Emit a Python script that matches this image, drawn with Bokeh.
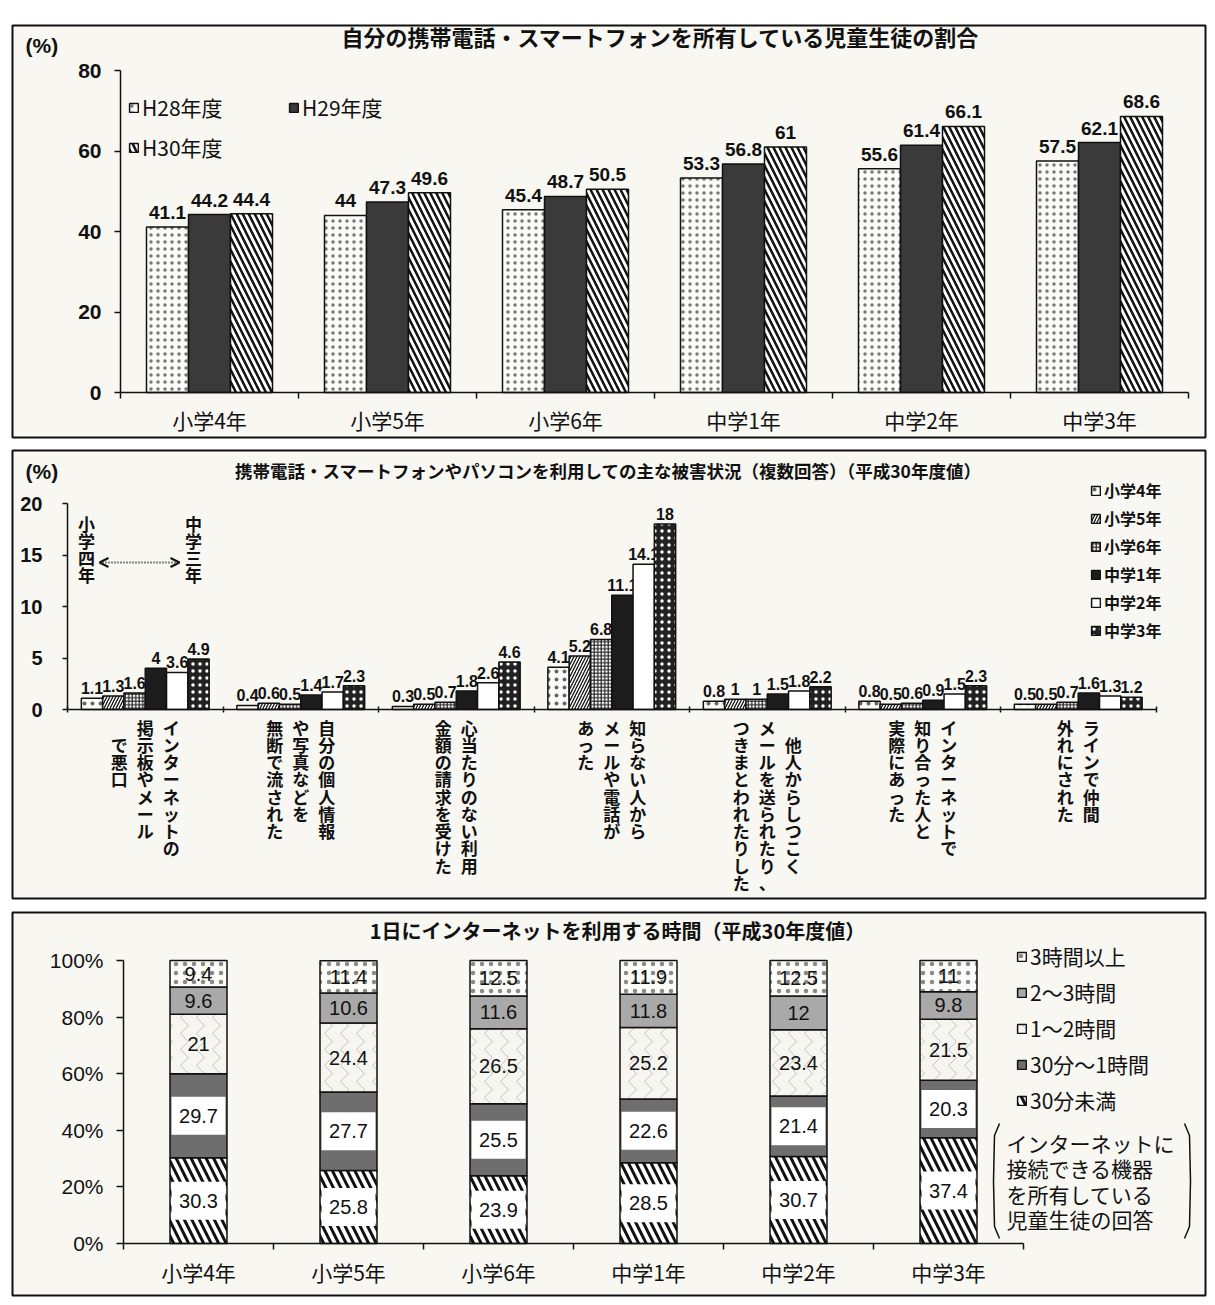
import numpy as np
from bokeh.plotting import figure
from bokeh.models import Range1d, FixedTicker, Legend, LegendItem, Arrow, OpenHead
from bokeh.layouts import column
from bokeh.embed import file_html
from bokeh.resources import INLINE
from bokeh.core.properties import value

JP = "Noto Sans CJK JP"
NUM = "Liberation Sans"
BG = "#f8f7f2"
INK = "#111111"

# ---------------- data ----------------
grades = ["小学4年", "小学5年", "小学6年", "中学1年", "中学2年", "中学3年"]

# panel 1: ownership of phone / smartphone (%)
years = ["H28年度", "H29年度", "H30年度"]
own_h28 = [41.1, 44.0, 45.4, 53.3, 55.6, 57.5]
own_h29 = [44.2, 47.3, 48.7, 56.8, 61.4, 62.1]
own_h30 = [44.4, 49.6, 50.5, 61.0, 66.1, 68.6]

# panel 2: damage situations (%), H30
damage_types = [
    ["インターネットの", "掲示板やメール", "　で悪口"],
    ["自分の個人情報", "や写真などを", "無断で流された"],
    ["心当たりのない利用", "金額の請求を受けた"],
    ["知らない人から", "メールや電話が", "あった"],
    ["　他人からしつこく", "メールを送られたり、", "つきまとわれたりした"],
    ["インターネットで", "知り合った人と", "実際にあった"],
    ["ラインで仲間", "外れにされた"],
]
dmg_e4 = [1.1, 0.4, 0.3, 4.1, 0.8, 0.8, 0.5]
dmg_e5 = [1.3, 0.6, 0.5, 5.2, 1.0, 0.5, 0.5]
dmg_e6 = [1.6, 0.5, 0.7, 6.8, 1.0, 0.6, 0.7]
dmg_j1 = [4.0, 1.4, 1.8, 11.1, 1.5, 0.9, 1.6]
dmg_j2 = [3.6, 1.7, 2.6, 14.1, 1.8, 1.5, 1.3]
dmg_j3 = [4.9, 2.3, 4.6, 18.0, 2.2, 2.3, 1.2]

# panel 3: daily internet use time (%), H30, bottom -> top
time_cats = ["30分未満", "30分～1時間", "1～2時間", "2～3時間", "3時間以上"]
t_lt30 = [30.3, 25.8, 23.9, 28.5, 30.7, 37.4]
t_30_60 = [29.7, 27.7, 25.5, 22.6, 21.4, 20.3]
t_1_2 = [21.0, 24.4, 26.5, 25.2, 23.4, 21.5]
t_2_3 = [9.6, 10.6, 11.6, 11.8, 12.0, 9.8]
t_3plus = [9.4, 11.4, 12.5, 11.9, 12.5, 11.0]


def fmt(v):
    return f"{v:g}"


FIG_LEFT, FIG_W = 0, 1208
FRAME_L, FRAME_R = 12, 1205


def make_panel(page_top, page_bottom, frame_top, frame_bottom, axis_x_px, px_per_cat, zero_y_px, px_per_unit):
    def X(px):
        return (px - axis_x_px) / px_per_cat - 0.5

    def Y(py):
        return (zero_y_px - py) / px_per_unit

    p = figure(width=FIG_W, height=page_bottom - page_top,
               x_range=Range1d(X(FRAME_L), X(FRAME_R)),
               y_range=Range1d(Y(frame_bottom), Y(frame_top)),
               min_border_left=FRAME_L - FIG_LEFT,
               min_border_right=FIG_LEFT + FIG_W - FRAME_R,
               min_border_top=frame_top - page_top,
               min_border_bottom=page_bottom - frame_bottom,
               output_backend="svg", toolbar_location=None)
    p.title.visible = False
    p.outline_line_color = INK
    p.outline_line_width = 2
    p.background_fill_color = BG
    p.border_fill_color = "white"
    p.grid.visible = False
    return p, X, Y


def style_axes(p, ncat, yticks, ybounds, xlabels=True):
    xa, ya = p.xaxis[0], p.yaxis[0]
    ya.fixed_location = -0.5
    xa.fixed_location = 0
    ya.bounds = ybounds
    xa.bounds = (-0.5, ncat - 0.5)
    ya.ticker = FixedTicker(ticks=yticks, minor_ticks=[])
    xa.ticker = FixedTicker(ticks=list(range(ncat)) if xlabels else [],
                            minor_ticks=[i - 0.5 for i in range(ncat + 1)])
    for a in (xa, ya):
        a.axis_line_color = INK
        a.axis_line_width = 1.5
        a.major_tick_line_color = INK
        a.major_tick_line_width = 1.5
        a.minor_tick_line_color = INK
        a.minor_tick_line_width = 1.5
        a.major_label_text_color = INK
    ya.major_tick_in = 0
    ya.major_tick_out = 6
    ya.minor_tick_in = 0
    ya.minor_tick_out = 0
    xa.major_tick_in = 0
    xa.major_tick_out = 0
    xa.minor_tick_in = 0
    xa.minor_tick_out = 6
    return xa, ya


def legend(items, loc, font_size, spacing, label_height, style="normal"):
    lg = Legend(items=items, location=loc, orientation="vertical",
                label_text_font=JP, label_text_font_size=font_size, label_text_font_style=style,
                label_text_color=INK, glyph_width=11, glyph_height=11, label_standoff=3,
                spacing=spacing, padding=0, margin=0, label_height=label_height,
                border_line_alpha=0, background_fill_alpha=0)
    return lg


# ======================= PANEL 1 =======================
P1_FB = 437
p1, X1, Y1 = make_panel(0, 443, 25, P1_FB, 120, 178, 392, 4.025)
xa1, ya1 = style_axes(p1, len(grades), [0, 20, 40, 60, 80], (0, 80))
ya1.major_label_standoff = 13
ya1.major_label_text_font = NUM
ya1.major_label_text_font_size = "21px"
ya1.major_label_text_font_style = "bold"
xa1.major_label_overrides = {i: g for i, g in enumerate(grades)}
xa1.major_label_standoff = 6
xa1.major_label_text_font = JP
xa1.major_label_text_font_size = "21px"

idx = np.arange(len(grades))
bw1 = 42 / 178
own_series = [own_h28, own_h29, own_h30]
styles1 = [
    dict(fill_color="#fbfbf7", hatch_pattern=".", hatch_color="#777777", hatch_scale=7, hatch_weight=1.5),
    dict(fill_color="#3a3a3a"),
    dict(fill_color="#ffffff", hatch_pattern="\\", hatch_color=INK, hatch_scale=12, hatch_weight=2.5),
]
rs1 = []
for k, (vals, st) in enumerate(zip(own_series, styles1)):
    xs = idx + (k - 1) * bw1
    r = p1.vbar(x=xs, top=vals, bottom=0, width=bw1, line_color=INK, line_width=1.5, **st)
    rs1.append(r)
    p1.text(x=xs, y=vals, text=[fmt(v) for v in vals], y_offset=-8,
            text_align="center", text_baseline="bottom", text_font=value(NUM),
            text_font_size=value("19px"), text_font_style="bold", text_color=INK)

p1.text(x=[X1(660)], y=[Y1(35)], text=["自分の携帯電話・スマートフォンを所有している児童生徒の割合"],
        text_align="center", text_baseline="middle", text_font=value(JP),
        text_font_size=value("22px"), text_font_style="bold", text_color=INK)
p1.text(x=[X1(25)], y=[Y1(45)], text=["(%)"], text_align="left", text_baseline="middle",
        text_font=value(NUM), text_font_size=value("21px"), text_font_style="bold", text_color=INK)

lgA = legend([LegendItem(label=years[0], renderers=[rs1[0]]),
              LegendItem(label=years[2], renderers=[rs1[2]])],
             (128 - FRAME_L, P1_FB - 162), "21px", 10, 24)
lgB = legend([LegendItem(label=years[1], renderers=[rs1[1]])],
             (288 - FRAME_L, P1_FB - 122), "21px", 10, 24)
p1.add_layout(lgA)
p1.add_layout(lgB)

# ======================= PANEL 2 =======================
P2_FB = 898
XPU2 = 155.5
p2, X2, Y2 = make_panel(443, 905, 450, P2_FB, 67, XPU2, 709, 10.3)
xa2, ya2 = style_axes(p2, len(damage_types), [0, 5, 10, 15, 20], (0, 20), xlabels=False)
ya2.major_tick_out = 5
ya2.major_label_standoff = 20
ya2.major_label_text_font = NUM
ya2.major_label_text_font_size = "20px"
ya2.major_label_text_font_style = "bold"
xa2.minor_tick_in = 3
xa2.minor_tick_out = 3

idx2 = np.arange(len(damage_types))
bw2 = 21.3 / XPU2
dmg_series = [dmg_e4, dmg_e5, dmg_e6, dmg_j1, dmg_j2, dmg_j3]
styles2 = [
    dict(fill_color="#fbfbf7", hatch_pattern=".", hatch_color="#666666", hatch_scale=8, hatch_weight=1.5),
    dict(fill_color="#ffffff", hatch_pattern="/", hatch_color=INK, hatch_scale=6, hatch_weight=1.3),
    dict(fill_color="#ffffff", hatch_pattern="+", hatch_color="#222222", hatch_scale=3.5, hatch_weight=1.2),
    dict(fill_color="#1c1c1c"),
    dict(fill_color="#ffffff"),
    dict(fill_color="#222222", hatch_pattern=".", hatch_color="#ffffff", hatch_scale=7, hatch_weight=2),
]
rs2 = []
for k, (vals, st) in enumerate(zip(dmg_series, styles2)):
    xs = idx2 + (k - 2.5) * bw2
    r = p2.vbar(x=xs, top=vals, bottom=0, width=bw2, line_color=INK, line_width=1.5, **st)
    rs2.append(r)
    p2.text(x=xs, y=vals, text=[fmt(v) for v in vals], y_offset=-4,
            text_align="center", text_baseline="bottom", text_font=value(NUM),
            text_font_size=value("16px"), text_font_style="bold", text_color=INK)

# vertical category labels (columns read right to left)
pitch = 26
for i, cols in enumerate(damage_types):
    n = len(cols)
    xs = [i + ((n - 1) / 2 - j) * pitch / XPU2 for j in range(n)]
    p2.text(x=xs, y=[Y2(714)] * n, text=["\n".join(c) for c in cols],
            text_align="center", text_baseline="top", text_line_height=0.69,
            text_font=value(JP), text_font_size=value("17px"), text_font_style="bold", text_color=INK)

p2.text(x=[X2(608)], y=[Y2(470)],
        text=["携帯電話・スマートフォンやパソコンを利用しての主な被害状況（複数回答）（平成30年度値）"],
        text_align="center", text_baseline="middle", text_font=value(JP),
        text_font_size=value("17.5px"), text_font_style="bold", text_color=INK)
p2.text(x=[X2(25)], y=[Y2(471)], text=["(%)"], text_align="left", text_baseline="middle",
        text_font=value(NUM), text_font_size=value("21px"), text_font_style="bold", text_color=INK)

# range annotation: 小学四年 <....> 中学三年
p2.text(x=[X2(86), X2(193)], y=[Y2(510), Y2(510)], text=["小\n学\n四\n年", "中\n学\n三\n年"],
        text_align="center", text_baseline="top", text_line_height=0.69,
        text_font=value(JP), text_font_size=value("17px"), text_font_style="bold", text_color=INK)
p2.add_layout(Arrow(x_start=X2(99), y_start=Y2(562), x_end=X2(179), y_end=Y2(562),
                    start=OpenHead(size=9, line_width=2, line_color=INK),
                    end=OpenHead(size=9, line_width=2, line_color=INK),
                    line_color=INK, line_width=2, line_dash="1 2"))

lg2 = legend([LegendItem(label=g, renderers=[r]) for g, r in zip(grades, rs2)],
             (1090 - FRAME_L, P2_FB - 642), "16px", 4, 20, style="bold")
p2.add_layout(lg2)

# ======================= PANEL 3 =======================
P3_FB = 1295
XPU3 = 150
p3, X3, Y3 = make_panel(905, 1297, 912, P3_FB, 123, XPU3, 1243, 2.83)
xa3, ya3 = style_axes(p3, len(grades), [0, 20, 40, 60, 80, 100], (0, 100))
ya3.major_tick_out = 7
ya3.major_label_standoff = 13
ya3.major_label_overrides = {t: f"{t}%" for t in [0, 20, 40, 60, 80, 100]}
ya3.major_label_text_font = NUM
ya3.major_label_text_font_size = "21px"
xa3.major_label_overrides = {i: g for i, g in enumerate(grades)}
xa3.major_label_standoff = 7
xa3.major_label_text_font = JP
xa3.major_label_text_font_size = "21px"

seg_vals = np.array([t_lt30, t_30_60, t_1_2, t_2_3, t_3plus])
tops = seg_vals.cumsum(axis=0)
bots = tops - seg_vals
mids = (tops + bots) / 2
bw3 = 57 / XPU3
styles3 = [
    dict(fill_color="#ffffff", hatch_pattern="\\", hatch_color=INK, hatch_scale=15, hatch_weight=3),
    dict(fill_color="#6e6e6e"),
    dict(fill_color="#f6f5f0", hatch_pattern=">", hatch_color="#c4c4c4", hatch_scale=16, hatch_weight=1),
    dict(fill_color="#a9a9a9"),
    dict(fill_color="#fbfbf7", hatch_pattern=".", hatch_color="#8a8a8a", hatch_scale=9, hatch_weight=1.5),
]
rs3 = []
for k, st in enumerate(styles3):
    r = p3.vbar(x=idx, top=tops[k], bottom=bots[k], width=bw3, line_color=INK, line_width=1.5, **st)
    rs3.append(r)
# white label boxes for the two lowest segments
for k in (0, 1):
    p3.rect(x=idx, y=mids[k], width=54, height=38, width_units="screen", height_units="screen",
            fill_color="#ffffff", line_color=None)
for k in range(len(styles3)):
    p3.text(x=idx, y=mids[k], text=[fmt(v) for v in seg_vals[k]], text_align="center",
            text_baseline="middle", text_font=value(NUM), text_font_size=value("20px"), text_color=INK)

p3.text(x=[X3(617)], y=[Y3(930)], text=["1日にインターネットを利用する時間（平成30年度値）"],
        text_align="center", text_baseline="middle", text_font=value(JP),
        text_font_size=value("20px"), text_font_style="bold", text_color=INK)

lg3 = legend([LegendItem(label=time_cats[k], renderers=[rs3[k]]) for k in range(4, -1, -1)],
             (1016 - FRAME_L, P3_FB - 1115), "21px", 6, 24)
p3.add_layout(lg3)

p3.text(x=[X3(1006)], y=[Y3(1127)], text=["インターネットに\n接続できる機器\nを所有している\n児童生徒の回答"],
        text_align="left", text_baseline="top", text_line_height=0.85,
        text_font=value(JP), text_font_size=value("21px"), text_color=INK)
# brackets around the note
bl, br, bt, bb = 993, 1190, 1123, 1238
p3.multi_line(xs=[[X3(bl + 6), X3(bl + 1), X3(bl), X3(bl + 1), X3(bl + 6)],
                  [X3(br - 6), X3(br - 1), X3(br), X3(br - 1), X3(br - 6)]],
              ys=[[Y3(bt), Y3(bt + 12), Y3((bt + bb) / 2), Y3(bb - 12), Y3(bb)]] * 2,
              line_color=INK, line_width=1.5)

layout = column(p1, p2, p3, spacing=0)
open("out.html", "w").write(file_html(layout, INLINE))
